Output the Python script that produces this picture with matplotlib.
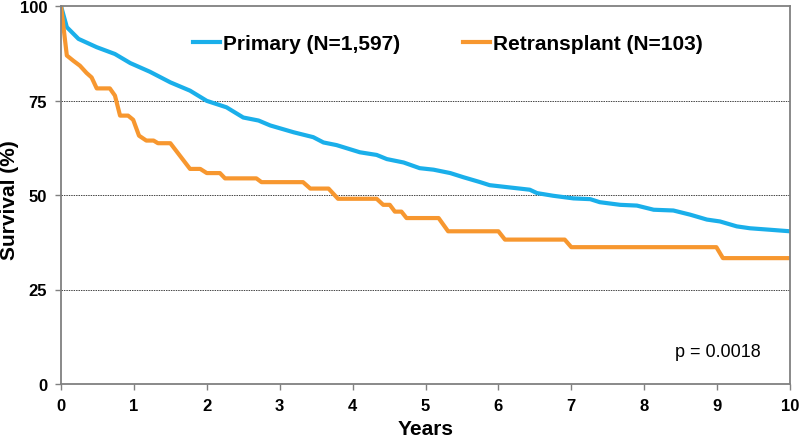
import matplotlib
matplotlib.use("Agg")
import matplotlib.pyplot as plt

# Kaplan-Meier style survival curves
primary_years = [0, 0.08, 0.24, 0.49, 0.74, 0.95, 1.22, 1.50, 1.77, 2.0, 2.27, 2.50,
                 2.71, 2.87, 3.19, 3.46, 3.60, 3.78, 4.10, 4.33, 4.47, 4.70, 4.92,
                 5.11, 5.34, 5.52, 5.75, 5.88, 6.20, 6.43, 6.53, 6.75, 7.03, 7.26,
                 7.39, 7.67, 7.90, 8.13, 8.40, 8.63, 8.86, 9.04, 9.27, 9.45, 9.73, 10.0]
primary_surv = [100, 94.4, 91.3, 89.1, 87.3, 84.9, 82.6, 79.8, 77.6, 74.9, 73.2, 70.5,
                69.7, 68.4, 66.6, 65.3, 63.9, 63.2, 61.3, 60.6, 59.5, 58.6, 57.1,
                56.7, 55.8, 54.7, 53.4, 52.6, 51.9, 51.4, 50.5, 49.8, 49.1, 48.9,
                48.1, 47.4, 47.2, 46.1, 45.9, 44.8, 43.5, 43.0, 41.7, 41.2, 40.8, 40.4]

retx_years = [0, 0.08, 0.17, 0.26, 0.35, 0.42, 0.49, 0.67, 0.74, 0.81, 0.92, 0.99,
              1.07, 1.17, 1.27, 1.33, 1.50, 1.77, 1.91, 2.0, 2.18, 2.25, 2.68, 2.75,
              3.32, 3.42, 3.67, 3.80, 4.33, 4.42, 4.51, 4.58, 4.67, 4.74, 5.18, 5.31,
              6.0, 6.09, 6.91, 7.0, 8.99, 9.08, 10.0]
retx_surv = [100, 86.9, 85.5, 84.2, 82.3, 81.1, 78.2, 78.2, 76.3, 71.0, 71.0, 69.9,
             65.7, 64.4, 64.4, 63.7, 63.7, 56.9, 56.9, 55.8, 55.8, 54.4, 54.4, 53.4,
             53.4, 51.7, 51.7, 49.0, 49.0, 47.4, 47.4, 45.6, 45.6, 43.9, 43.9, 40.4,
             40.4, 38.2, 38.2, 36.2, 36.2, 33.3, 33.3]

x_ticks = list(range(0, 11))
y_ticks = [0, 25, 50, 75, 100]

plt.rcParams['font.family'] = ['Liberation Sans', 'DejaVu Sans']

fig = plt.figure(figsize=(8, 4.39), dpi=100)
ax = fig.add_axes([61 / 800, 1 - 385 / 439, 729 / 800, 378 / 439])

ax.plot(primary_years, primary_surv, color='#1AAFEA', linewidth=3,
        label='Primary (N=1,597)', solid_joinstyle='round')
ax.plot(retx_years, retx_surv, color='#F7972F', linewidth=3,
        label='Retransplant (N=103)', solid_joinstyle='round')

# dotted reference lines
for yv in [25, 50, 75]:
    ax.axhline(yv, color='#444444', linestyle=(0, (1.5, 1)), linewidth=0.7, zorder=0)

ax.set_xlim(0, 10)
ax.set_ylim(0, 100)
ax.set_xticks(x_ticks)
ax.set_yticks(y_ticks)
ax.tick_params(axis='both', labelsize=12, length=4, width=1, color='#808080', pad=6)
for lbl in ax.get_xticklabels() + ax.get_yticklabels():
    lbl.set_fontweight('bold')

for sp in ax.spines.values():
    sp.set_color('#808080')
    sp.set_linewidth(1.3)

# axis titles placed in figure pixels to match the reference layout
fig.text(426 / 800, 1 - 430 / 439, 'Years', fontsize=15, fontweight='bold',
         ha='center', va='center')
fig.text(10 / 800, 1 - 200 / 439, 'Survival (%)', fontsize=15, fontweight='bold',
         ha='center', va='center', rotation=90)

ax.legend(loc='center', bbox_to_anchor=(0.531, 0.9), ncol=2, frameon=False,
          borderpad=0, handlelength=1.3, handletextpad=0.15, columnspacing=3,
          prop={'size': 15, 'weight': 'bold'})

ax.text(0.842, 0.085, 'p = 0.0018', transform=ax.transAxes, fontsize=13,
        ha='left', va='center')

fig.savefig('out.png', dpi=100)
